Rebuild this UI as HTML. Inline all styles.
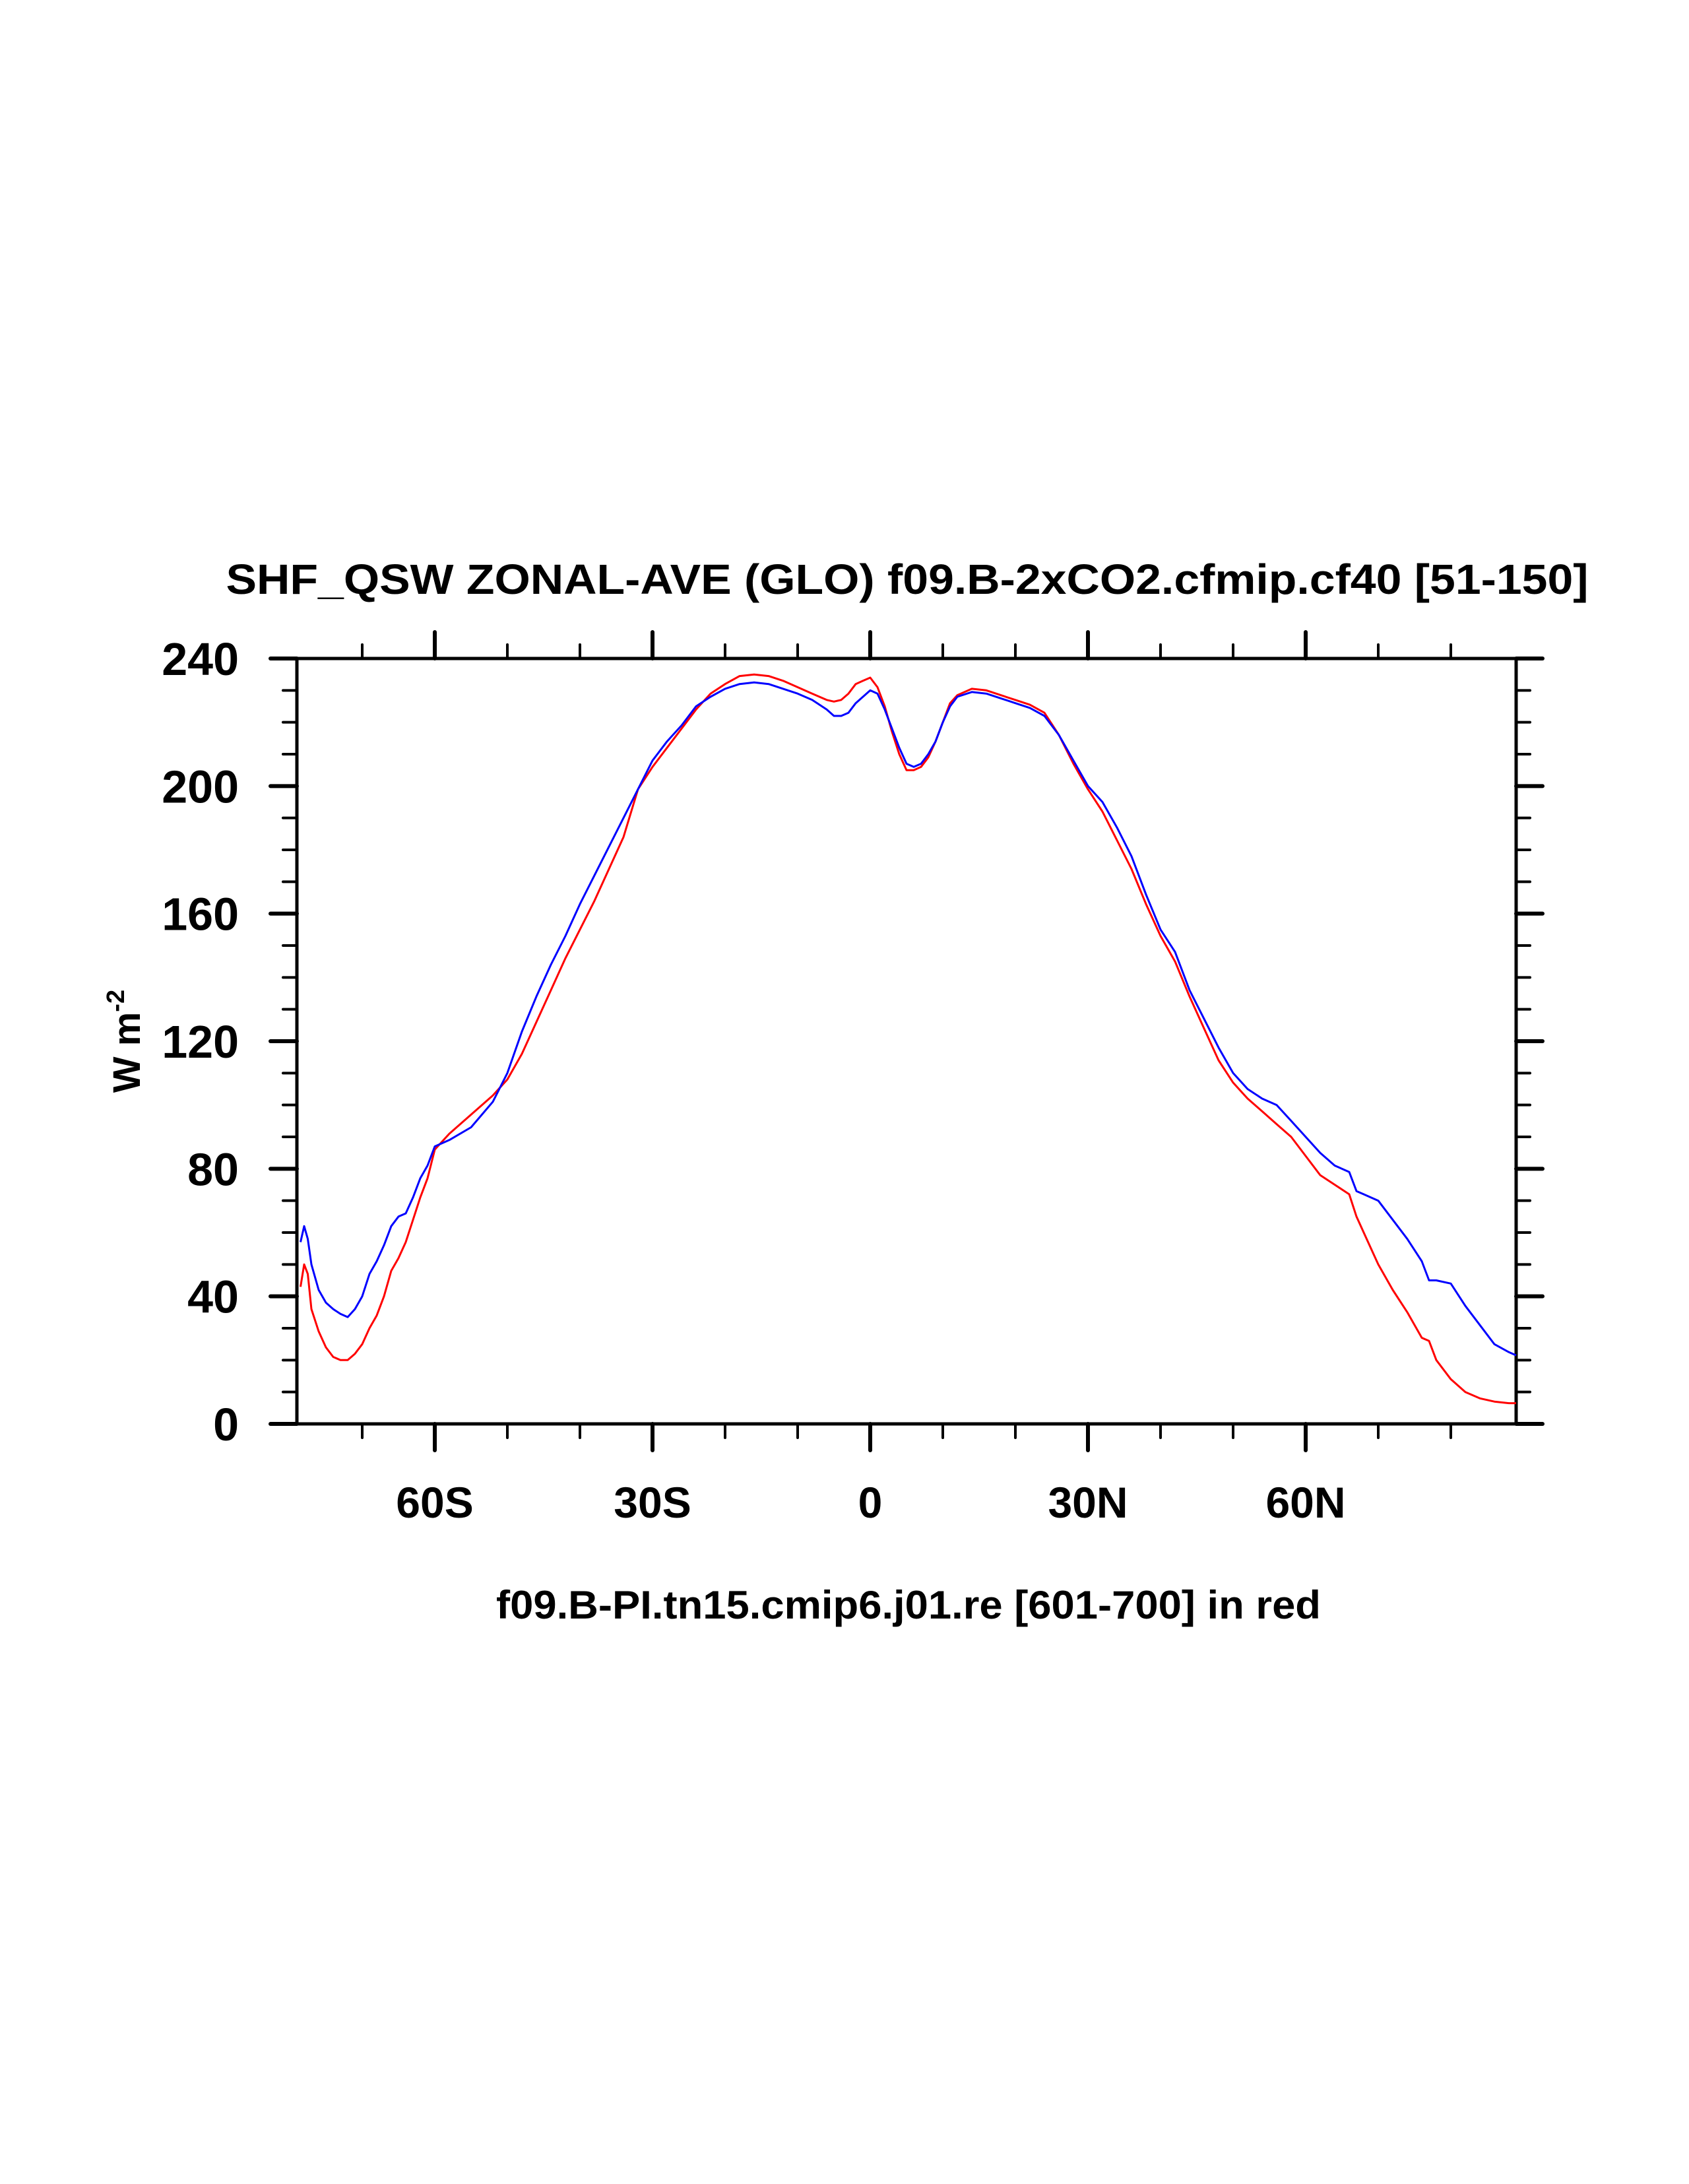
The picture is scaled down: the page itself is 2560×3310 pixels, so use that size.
<!DOCTYPE html>
<html><head><meta charset="utf-8"><style>
html,body{margin:0;padding:0;background:#fff;}
svg{display:block;}
text{font-family:"Liberation Sans",sans-serif;font-weight:bold;fill:#000;}
</style></head><body>
<svg id="chart" width="2560" height="3310" viewBox="0 0 2560 3310" xmlns="http://www.w3.org/2000/svg">
<rect width="2560" height="3310" fill="#fff"/>
<text x="1375" y="900" font-size="64" text-anchor="middle" textLength="2065" lengthAdjust="spacingAndGlyphs">SHF_QSW ZONAL-AVE (GLO) f09.B-2xCO2.cfmip.cf40 [51-150]</text>
<text x="1377" y="2453" font-size="60" text-anchor="middle" textLength="1250" lengthAdjust="spacingAndGlyphs">f09.B-PI.tn15.cmip6.j01.re [601-700] in red</text>
<text transform="translate(212,1578) rotate(-90)" font-size="58" text-anchor="middle">W m<tspan font-size="38" dy="-24">-2</tspan></text>
<g id="axes"></g>
<g id="series"></g>
</svg>
<script>
const latB=[-78.5,-78,-77.5,-77,-76,-75,-74,-73,-72,-71,-70,-69,-68,-67,-66,-65,-64,-63,-62,-61,-60,-58,-55,-52,-50,-48,-46,-44,-42,-40,-38,-36,-34,-32,-30,-28,-26,-24,-22,-20,-18,-16,-14,-12,-10,-8,-6,-5,-4,-3,-2,-1,0,1,2,3,4,5,6,7,8,9,10,11,12,14,16,18,20,22,24,26,28,30,32,34,36,38,40,42,44,46,48,50,52,54,56,58,60,62,64,66,67,68,70,72,74,76,77,78,80,82,84,86,88,89];
const blueVals=[57,62,58,50,42,38,36,34.5,33.5,36,40,47,51,56,62,65,66,71,77,81,87,89,93,101,110,123,134,144,153,163,172,181,190,199,208,214,219,225,228,230.5,232,232.5,232,230.5,229,227,224,222,222,223,226,228,230,229,224,218,212,207,206,207,210,214,220,225,228,229.5,229,227.5,226,224.5,222,216,208,200,195,187,178,166,155,148,136,127,118,110,105,102,100,95,90,85,81,79,73,72,70,64,58,51,45,45,44,37,31,25,22.5,21.5,21];
const redVals=[43,50,47,36,29,24,21,20,20,22,25,30,34,40,48,52,57,64,71,77,86,91,97,103,108,116,126,136,146,155,164,174,184,199,206,212,218,224,229,232,234.5,235,234.5,233,231,229,227,226.5,227,229,232,233,234,231,225,217,210,205,205,206,209,214,220,226,228.5,230.5,230,228.5,227,225.5,223,216,207,199,192,183,174,163,153,145,134,124,114,107,102,98,94,90,84,78,75,72,65,60,50,42,35,27,26,20,14,10,8,7,6.5,6.5];
const yTickVals=[0,40,80,120,160,200,240];
const xTickVals=[-60,-30,0,30,60];
const xTickLabels=["60S","30S","0","30N","60N"];

const L=450,R=2298,T=998,B=2158,xmin=-79,xmax=89,ymin=0,ymax=240;
const xs=v=>L+(v-xmin)/(xmax-xmin)*(R-L);
const ys=v=>B-(v-ymin)/(ymax-ymin)*(B-T);
const NS="http://www.w3.org/2000/svg";
const axes=document.getElementById('axes'),ser=document.getElementById('series');
function mk(tag,attrs,parent){const e=document.createElementNS(NS,tag);for(const k in attrs)e.setAttribute(k,attrs[k]);parent.appendChild(e);return e;}
function line(x1,y1,x2,y2,w,name){const e=mk('line',{x1,y1,x2,y2,stroke:'#000','stroke-width':w,'stroke-linecap':'round'},axes);

return e;}
const fr=mk('rect',{x:L,y:T,width:R-L,height:B-T,fill:'none',stroke:'#000','stroke-width':5},axes);


for(let v=ymin;v<=ymax;v+=10){const major=v%40===0,y=ys(v),len=major?40:21,w=major?6:4;
line(L-len,y,L,y,w,'y-tick-left');line(R,y,R+len,y,w,'y-tick-right');}
yTickVals.forEach(v=>{const t=mk('text',{x:362,y:ys(v)+25,'font-size':70,'text-anchor':'end'},axes);t.textContent=v;

});
for(let v=-70;v<=80;v+=10){const major=v%30===0,x=xs(v),len=major?40:21,w=major?6:4;
line(x,B,x,B+len,w,'x-tick-bottom');line(x,T-len,x,T,w,'x-tick-top');}
xTickVals.forEach((v,i)=>{const t=mk('text',{x:xs(v),y:2300,'font-size':66,'text-anchor':'middle'},axes);t.textContent=xTickLabels[i];

});
function series(lats,vals,color,name){const d=lats.map((a,i)=>(i?'L':'M')+xs(a).toFixed(1)+','+ys(vals[i]).toFixed(1)).join(' ');
const p=mk('path',{d,fill:'none',stroke:color,'stroke-width':3,'stroke-linejoin':'round'},ser);

}
series(latB,redVals,'#ff0000','series-control-red');
series(latB,blueVals,'#0000ff','series-2xco2-blue');
</script>
</body></html>
